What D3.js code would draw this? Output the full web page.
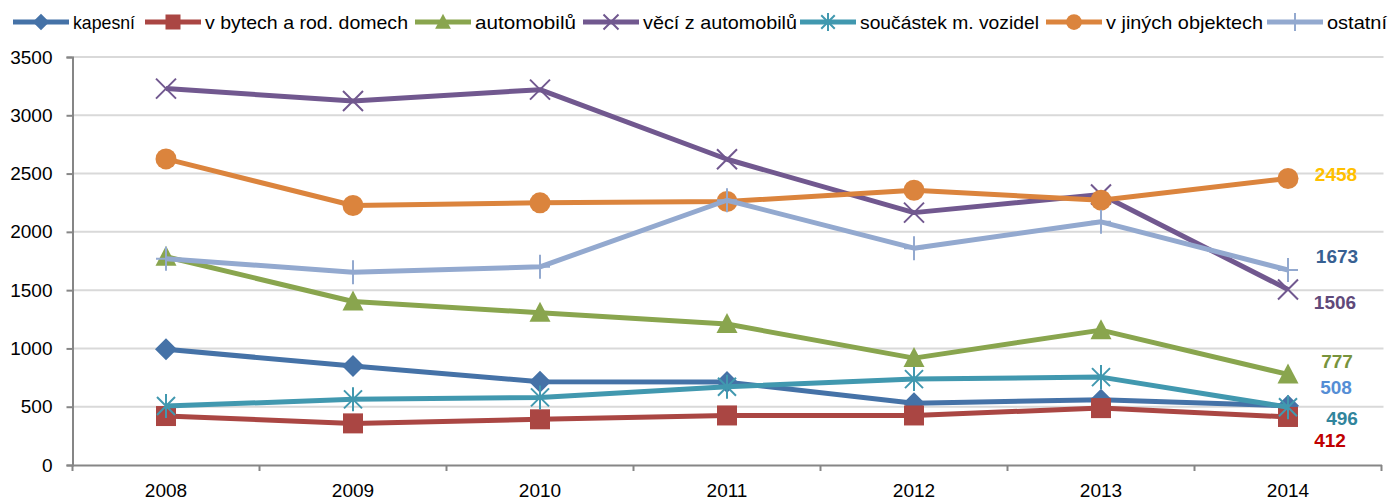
<!DOCTYPE html>
<html><head><meta charset="utf-8">
<script src="https://cdn.jsdelivr.net/npm/d3@7"></script>
<style>
body{margin:0;background:#fff;}
svg text{font-family:"Liberation Sans Narrow","Arial Narrow","Liberation Sans",sans-serif;}
</style></head>
<body><svg id="c" width="1392" height="500"></svg>
<script>
const years = ["2008","2009","2010","2011","2012","2013","2014"];
const seriesNames = ["kapesní","v bytech a rod. domech","automobilů","věcí z automobilů","součástek m. vozidel","v jiných objektech","ostatní"];
const kapesni   = [992, 849, 714, 711, 530, 560, 508];
const byty      = [420, 357, 392, 425, 425, 488, 412];
const automob   = [1786, 1403, 1306, 1209, 917, 1157, 777];
const veci      = [3229, 3123, 3220, 2623, 2165, 2320, 1506];
const soucastky = [506, 563, 580, 671, 737, 754, 496];
const jine      = [2626, 2226, 2249, 2260, 2357, 2272, 2458];
const ostatni   = [1769, 1654, 1700, 2271, 1860, 2086, 1673];
const yTicks = [0, 500, 1000, 1500, 2000, 2500, 3000, 3500];
// end data labels (text as shown in the reference)
const endLabels = ["508","412","777","1506","496","2458","1673"];

(function(){
const colors = ["#4572A7","#AA4643","#89A54E","#71588F","#4198AF","#DB843D","#93A9CF"];
const labelColors = ["#558ED5","#C00000","#77933C","#5F497A","#31859C","#FFC000","#376092"];
const markers = ["diamond","square","triangle","x","asterisk","circle","plus"];
const values = [kapesni, byty, automob, veci, soucastky, jine, ostatni];

const svg = d3.select("#c");
const mLeft = 72.5, mRight = 1381.5, mTop = 57, mBottom = 465;
const x = d3.scaleBand().domain(years).range([mLeft, mRight]);
const y = d3.scaleLinear().domain([0, 3500]).range([mBottom, mTop]);
const cx = d => x(d) + x.bandwidth()/2;

// gridlines
svg.append("g").selectAll("line").data(yTicks.filter(t=>t>0)).join("line")
  .attr("x1", mLeft).attr("x2", mRight+2).attr("y1", d=>y(d)).attr("y2", d=>y(d))
  .attr("stroke", "#D9D9D9").attr("stroke-width", 2);

// y axis
const yAxis = svg.append("g").attr("transform", `translate(${mLeft},0)`)
  .call(d3.axisLeft(y).tickValues(yTicks).tickSize(6).tickPadding(14).tickFormat(d3.format("d")));
yAxis.select(".domain").attr("stroke", "#868686").attr("stroke-width", 2);
yAxis.selectAll(".tick line").attr("stroke", "#868686").attr("stroke-width", 2);
yAxis.selectAll(".tick text").attr("font-size", 19).attr("fill", "#000");

// x axis
const xAxis = svg.append("g").attr("transform", `translate(0,${mBottom})`)
  .call(d3.axisBottom(x).tickSize(0).tickPadding(19));
xAxis.select(".domain").attr("stroke", "#868686").attr("stroke-width", 2);
xAxis.selectAll(".tick text").attr("font-size", 19).attr("fill", "#000");
svg.append("g").selectAll("line").data(d3.range(years.length+1)).join("line")
  .attr("x1", i=>mLeft + i*x.step()).attr("x2", i=>mLeft + i*x.step())
  .attr("y1", mBottom).attr("y2", mBottom+6)
  .attr("stroke", "#868686").attr("stroke-width", 2);

function drawMarker(g, type, color, px, py, s=1) {
  if (type === "diamond") {
    g.append("path").attr("d", `M${px},${py-11*s}L${px+11*s},${py}L${px},${py+11*s}L${px-11*s},${py}Z`).attr("fill", color);
  } else if (type === "square") {
    g.append("rect").attr("x", px-10*s).attr("y", py-10*s).attr("width", 20*s).attr("height", 20*s).attr("fill", color);
  } else if (type === "triangle") {
    g.append("path").attr("d", `M${px},${py-11*s}L${px+10.5*s},${py+9*s}L${px-10.5*s},${py+9*s}Z`).attr("fill", color);
  } else if (type === "x") {
    g.append("path").attr("d", `M${px-10*s},${py-10*s}L${px+10*s},${py+10*s}M${px+10*s},${py-10*s}L${px-10*s},${py+10*s}`)
      .attr("stroke", color).attr("stroke-width", 2).attr("fill", "none");
  } else if (type === "asterisk") {
    g.append("path").attr("d", `M${px-9*s},${py-9*s}L${px+9*s},${py+9*s}M${px+9*s},${py-9*s}L${px-9*s},${py+9*s}M${px},${py-12*s}L${px},${py+12*s}`)
      .attr("stroke", color).attr("stroke-width", 2).attr("fill", "none");
  } else if (type === "circle") {
    g.append("circle").attr("cx", px).attr("cy", py).attr("r", 10.5*s).attr("fill", color);
  } else if (type === "plus") {
    g.append("path").attr("d", `M${px},${py-12*s}L${px},${py+12*s}M${px-10*s},${py}L${px+10*s},${py}`)
      .attr("stroke", color).attr("stroke-width", 2).attr("fill", "none");
  }
}

const line = d3.line().x((d,i)=>cx(years[i])).y(d=>y(d));
values.forEach((vals, si) => {
  const g = svg.append("g");
  g.append("path").datum(vals).attr("d", line).attr("fill", "none")
    .attr("stroke", colors[si]).attr("stroke-width", 5).attr("stroke-linejoin", "round");
  vals.forEach((v, i) => drawMarker(g, markers[si], colors[si], cx(years[i]), y(v)));
});

// end labels
const lastX = cx(years[years.length-1]);
const labelDy = [-18, 23, -13, 13, 11, -4, -14];
const labelDx = [48, 42, 49, 47, 54, 48, 49];
values.forEach((vals, si) => {
  svg.append("text").attr("x", lastX + labelDx[si]).attr("y", y(vals[vals.length-1]) + labelDy[si])
    .attr("text-anchor", "middle").attr("dy", "0.35em")
    .attr("font-size", 19).attr("font-weight", "bold").attr("fill", labelColors[si])
    .text(endLabels[si]);
});

// legend
const legX = [13, 145, 415, 583, 800, 1046, 1267];
const legW = [62, 203, 101, 154, 179, 157, 60];
const legY = 22;
seriesNames.forEach((name, si) => {
  const g = svg.append("g");
  g.append("line").attr("x1", legX[si]).attr("x2", legX[si]+56).attr("y1", legY).attr("y2", legY)
    .attr("stroke", colors[si]).attr("stroke-width", 5);
  drawMarker(g, markers[si], colors[si], legX[si]+28, legY, 0.75);
  g.append("text").attr("x", legX[si]+60).attr("y", legY).attr("dy", "0.35em")
    .attr("font-size", 19).attr("fill", "#000")
    .attr("textLength", legW[si]).attr("lengthAdjust", "spacingAndGlyphs")
    .text(name);
});
})();
</script></body></html>
